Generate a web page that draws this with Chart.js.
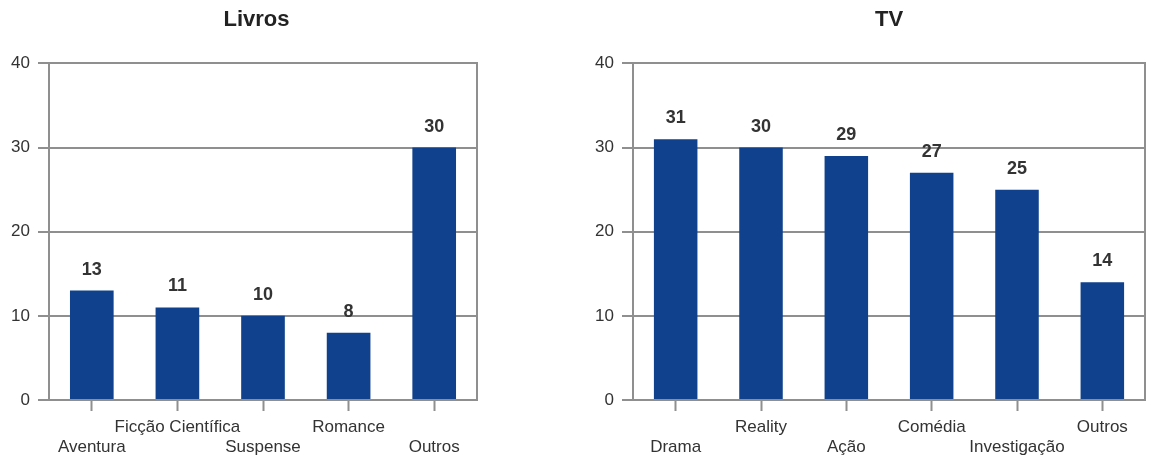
<!DOCTYPE html>
<html lang="pt">
<head>
<meta charset="utf-8">
<title>Livros e TV</title>
<script src="https://cdn.jsdelivr.net/npm/chart.js@4.4.1/dist/chart.umd.min.js"></script>
<style>
  html, body { margin: 0; padding: 0; background: #ffffff; overflow: hidden; }
  .wrap { position: absolute; top: 0; height: 458px; }
  #boxLivros { left: 0; width: 513px; }
  #boxTV { left: 578px; width: 578px; }
</style>
</head>
<body>
<div class="wrap" id="boxLivros"><canvas id="livros"></canvas></div>
<div class="wrap" id="boxTV"><canvas id="tv"></canvas></div>
<script>
// Livros
const livrosCategorias = ['Aventura', 'Ficção Científica', 'Suspense', 'Romance', 'Outros'];
const livrosValores = [13, 11, 10, 8, 30];

// TV
const tvCategorias = ['Drama', 'Reality', 'Ação', 'Comédia', 'Investigação', 'Outros'];
const tvValores = [31, 30, 29, 27, 25, 14];

// Eixo vertical comum
const yTicks = [0, 10, 20, 30, 40];

const FONT = "'Liberation Sans', Arial, Helvetica, sans-serif";
const GRID = '#8f8f8f';
const BAR = '#0f418c';
const TEXT = '#333333';

// Escreve o valor de cada barra acima dela
const valueLabels = {
  id: 'valueLabels',
  afterDatasetsDraw(chart) {
    const ctx = chart.ctx;
    const meta = chart.getDatasetMeta(0);
    const data = chart.data.datasets[0].data;
    ctx.save();
    ctx.font = 'bold 18px ' + FONT;
    ctx.fillStyle = TEXT;
    ctx.textAlign = 'center';
    ctx.textBaseline = 'middle';
    meta.data.forEach((bar, i) => {
      ctx.fillText(String(data[i]), bar.x, bar.y - 21);
    });
    ctx.restore();
  }
};

function makeChart(id, titulo, categorias, valores, yWidth, rightWidth, padRight, tituloLargo) {
  return new Chart(document.getElementById(id), {
    type: 'bar',
    data: {
      labels: categorias,
      datasets: [{
        data: valores,
        backgroundColor: BAR,
        borderWidth: 0,
        categoryPercentage: 1,
        barPercentage: 0.51
      }]
    },
    options: {
      responsive: true,
      maintainAspectRatio: false,
      animation: false,
      events: [],
      layout: { padding: { left: 0, right: padRight, top: 0, bottom: 0 } },
      plugins: {
        legend: { display: false },
        tooltip: { enabled: false },
        title: {
          display: true,
          text: titulo,
          fullSize: tituloLargo,
          color: '#222222',
          font: { family: FONT, size: 22, weight: 'bold', lineHeight: 1.2 },
          padding: { top: 7, bottom: 30 }
        }
      },
      scales: {
        x: {
          type: 'category',
          offset: true,
          grid: {
            offset: false,
            drawOnChartArea: false,
            drawTicks: true,
            tickLength: 11,
            tickWidth: 2,
            tickColor: GRID
          },
          border: { display: true, color: GRID, width: 2 },
          ticks: {
            autoSkip: false,
            maxRotation: 0,
            minRotation: 0,
            padding: 6,
            color: TEXT,
            font: { family: FONT, size: 17, lineHeight: 1.2 },
            callback(value, index) {
              const label = this.getLabelForValue(value);
              return index % 2 === 0 ? ['', label] : [label, ''];
            }
          },
          afterFit(scale) { scale.height = 58; }
        },
        y: {
          min: yTicks[0],
          max: yTicks[yTicks.length - 1],
          afterBuildTicks(scale) { scale.ticks = yTicks.map(v => ({ value: v })); },
          grid: {
            color: GRID,
            lineWidth: 2,
            drawTicks: true,
            tickLength: 11,
            tickColor: GRID
          },
          border: { display: true, color: GRID, width: 2 },
          ticks: {
            padding: 8,
            color: TEXT,
            font: { family: FONT, size: 17 }
          },
          afterFit(scale) { scale.width = yWidth; }
        },
        yRight: {
          position: 'right',
          min: yTicks[0],
          max: yTicks[yTicks.length - 1],
          grid: { display: false, drawTicks: false },
          border: { display: true, color: GRID, width: 2 },
          ticks: { display: false },
          afterFit(scale) { scale.width = rightWidth; }
        }
      }
    },
    plugins: [valueLabels]
  });
}

makeChart('livros', 'Livros', livrosCategorias, livrosValores, 49, 36, 0, true);
makeChart('tv', 'TV', tvCategorias, tvValores, 55, 0, 11, false);
</script>
</body>
</html>
